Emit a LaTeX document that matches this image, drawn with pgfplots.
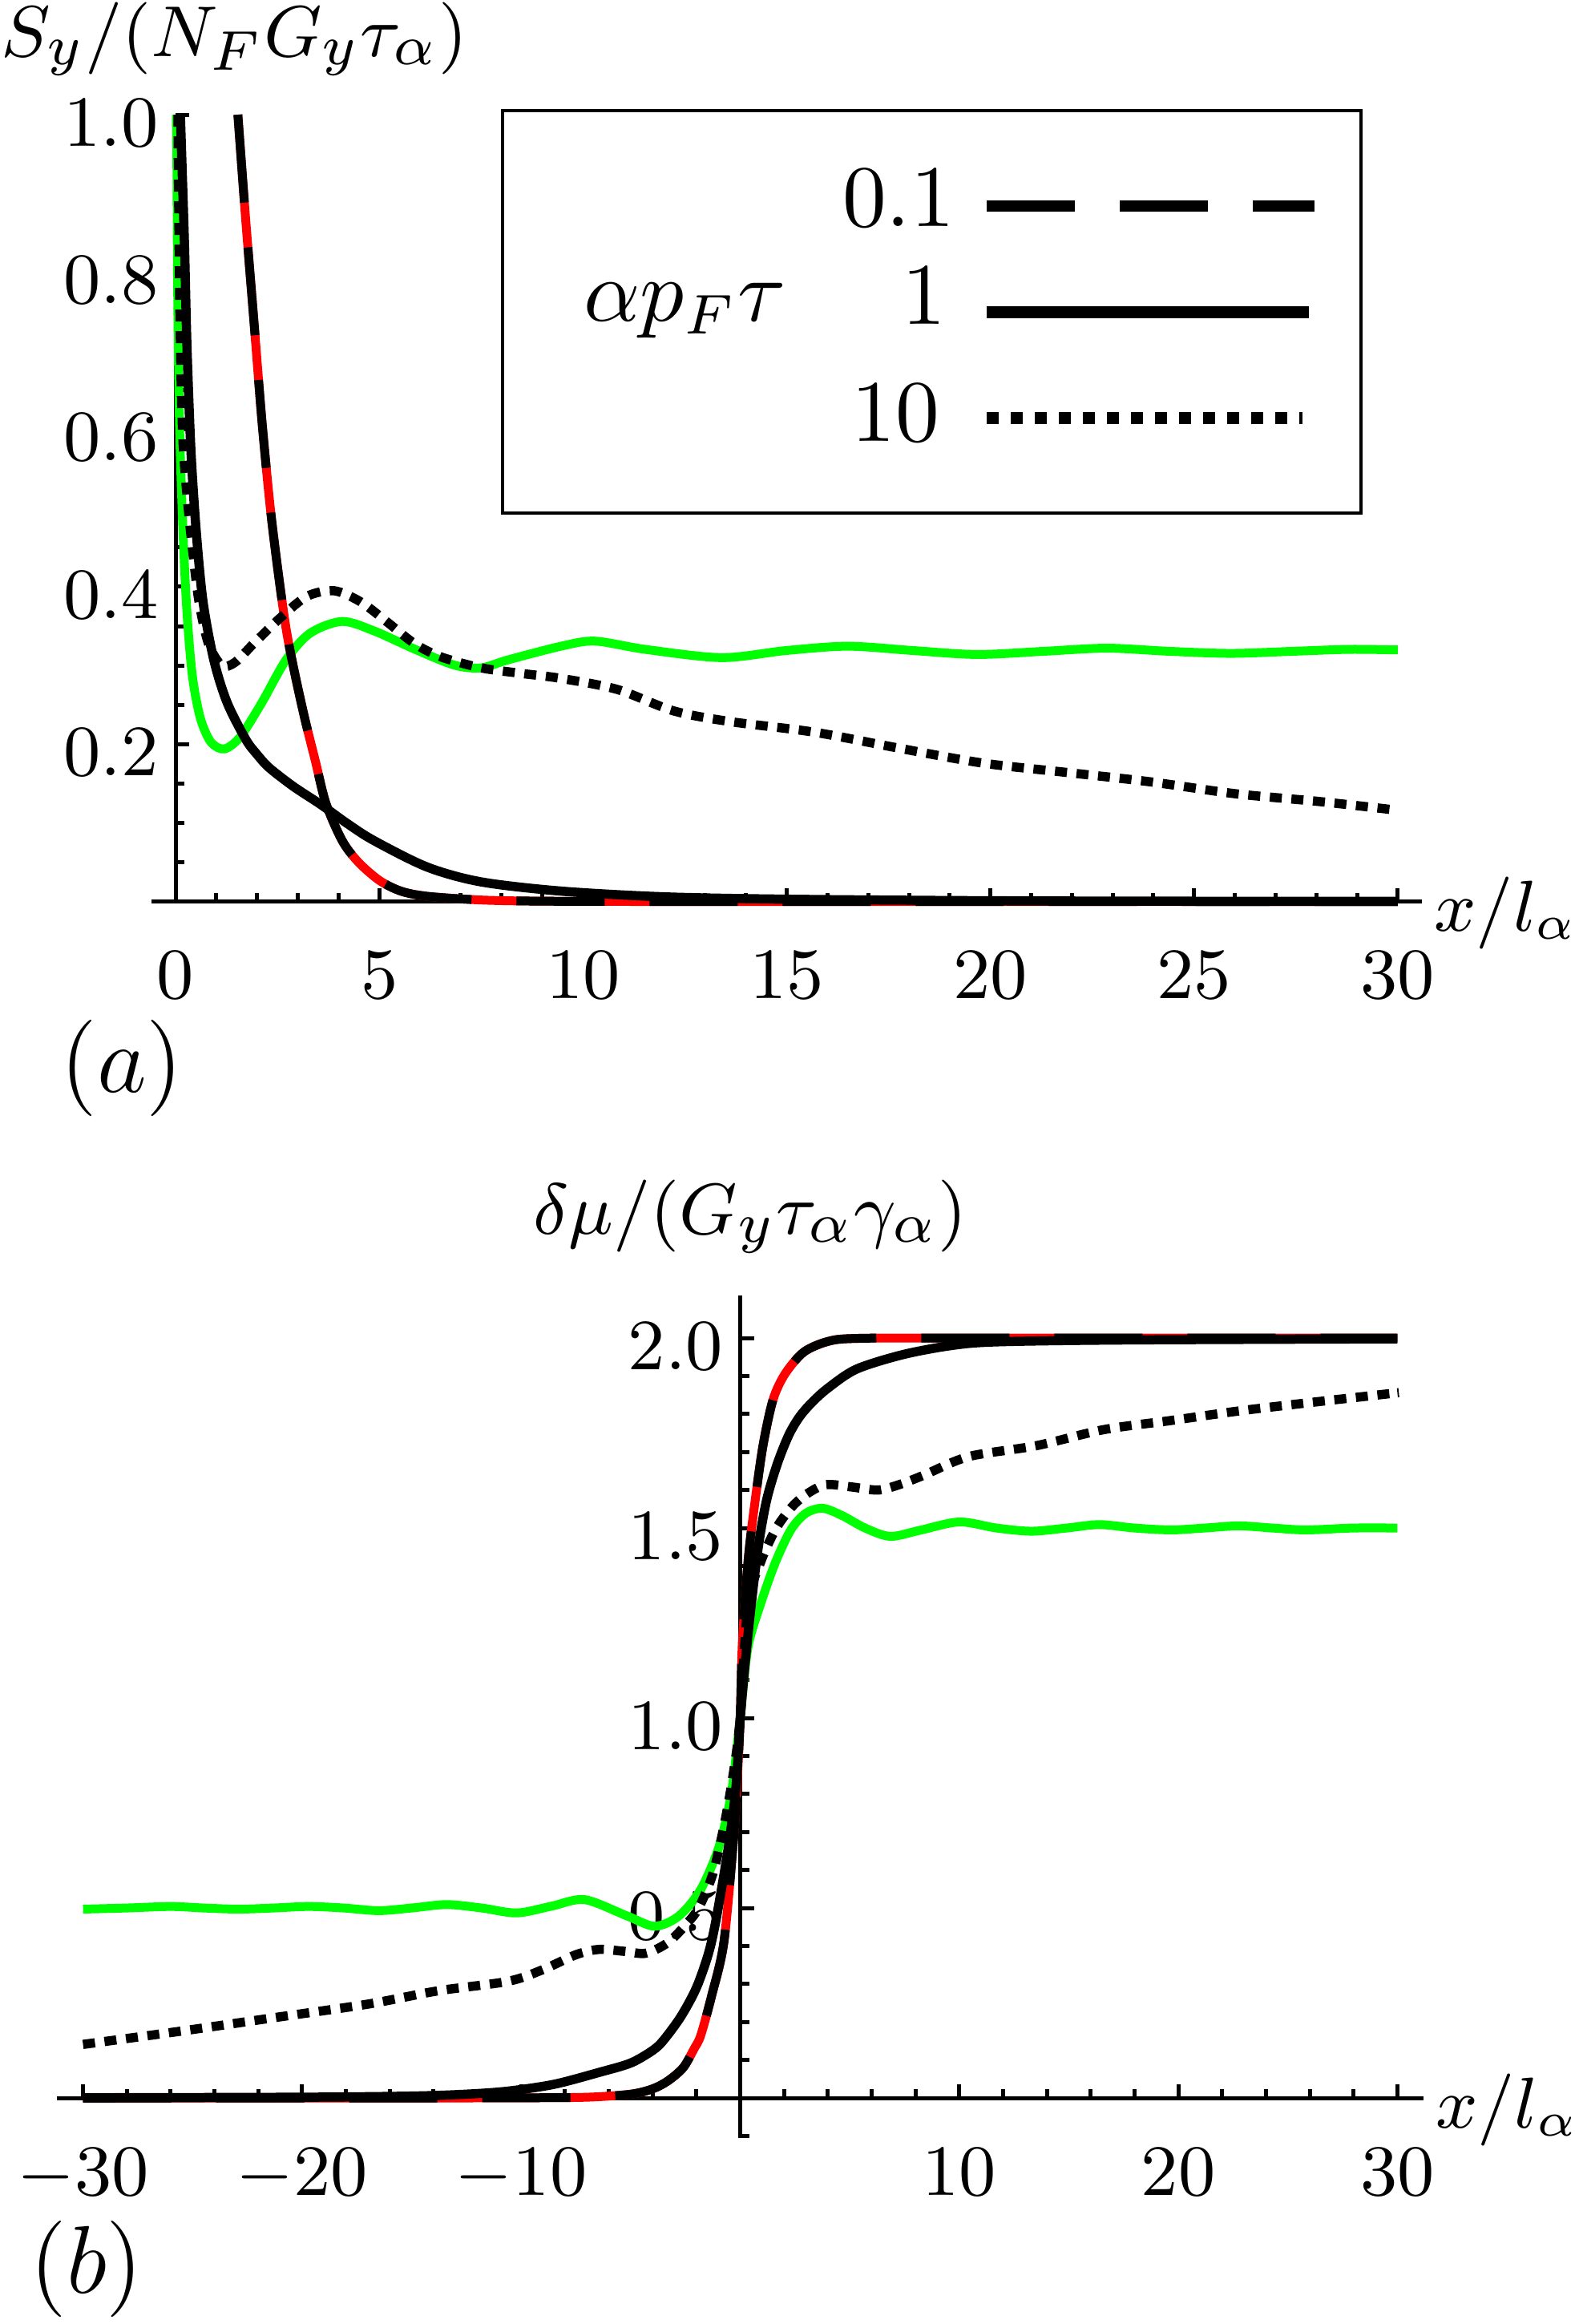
\documentclass[border=0pt]{standalone}
\usepackage{pgfplots}
\pgfplotsset{compat=1.18}
\definecolor{mgreen}{rgb}{0,1,0}
\definecolor{mred}{rgb}{1,0,0}

% Mathematica-like axes through the origin
\pgfplotsset{
  mma/.style={
    axis lines=middle,
    scale only axis,
    clip=false,
    axis line style={line width=0.5pt,-},
    every inner x axis line/.append style={-},
    every inner y axis line/.append style={-},
    tick style={black, line width=0.5pt},
    tick align=inside,
    major tick length=1.7pt,
    minor tick length=1.1pt,
    tick label style={font=\fontsize{9.5}{11}\selectfont},
    x tick label style={yshift=-2.8pt},
    y tick label style={xshift=1.4pt, yshift=-1pt,
      /pgf/number format/fixed, /pgf/number format/fixed zerofill,
      /pgf/number format/precision=1},
    label style={inner sep=0pt},
  },
  c01red/.style={mred, line width=1.1pt, smooth},
  c01/.style={black, line width=1.1pt, smooth, dash pattern=on 11pt off 5.6pt},
  c1/.style={black, line width=1.15pt, smooth},
  c10/.style={black, line width=1.15pt, smooth, dash pattern=on 1.5pt off 1.2pt},
  cg/.style={mgreen, line width=1.1pt, smooth},
}

\begin{document}
\begin{tikzpicture}
\useasboundingbox (0pt,0pt) rectangle (196.4pt,-289.9pt);

% ---------------- panel (a) ----------------
\begin{axis}[mma,
  at={(18.85pt,-112.46pt)}, anchor=south west,
  width=158.6pt, height=98.16pt,
  xmin=-0.6, xmax=30.6, ymin=0, ymax=1.0,
  hide obscured x ticks=false,
  xtick={0,5,...,30},
  minor xtick={1,2,...,30},
  ytick={0.2,0.4,0.6,0.8,1.0},
  minor ytick={0.05,0.1,...,1.0},
  xlabel={$x/l_\alpha$},
  ylabel={$S_y/(N_FG_y\tau_\alpha)$},
  xlabel style={at={(axis description cs:1,0)}, anchor=west, xshift=1.3pt, yshift=-1.45pt,
    font=\fontsize{9}{11}\selectfont},
  ylabel style={at={(axis description cs:0.01923,1)}, anchor=south west, xshift=-21.9pt, yshift=4.7pt,
    font=\fontsize{9.5}{11}\selectfont},
]
\addplot[cg] coordinates {
 (0.02,1.0) (0.033,0.942) (0.053,0.774) (0.098,0.605) (0.184,0.469) (0.28,0.368)
 (0.413,0.287) (0.61,0.233) (0.87,0.2025) (1.2,0.194) (1.59,0.2095) (2.12,0.253)
 (2.71,0.307) (3.3,0.341) (4.09,0.356) (4.87,0.344) (5.86,0.321) (6.84,0.3005)
 (7.5,0.297) (8.15,0.307) (9.46,0.3245) (10.29,0.331) (11.53,0.3205) (13.4,0.310)
 (14.98,0.319) (16.5,0.3245) (18.1,0.319) (19.67,0.314) (21.3,0.318) (22.85,0.322)
 (24.4,0.318) (25.9,0.3154) (27.4,0.318) (28.8,0.3205) (30,0.3198)
};
\addplot[c01red] coordinates {
 (1.53,1.0) (1.72,0.868) (1.92,0.74) (2.12,0.611) (2.32,0.503) (2.51,0.422)
 (2.71,0.348) (2.91,0.294) (3.17,0.233) (3.43,0.179) (3.69,0.125) (4.09,0.0775)
 (4.48,0.0505) (5.0,0.027) (5.53,0.0133) (6.18,0.0067) (7.5,0.002) (9,0.0005)
 (12,0.0001) (20,0) (30,0)
};
\addplot[c01] coordinates {
 (1.53,1.0) (1.72,0.868) (1.92,0.74) (2.12,0.611) (2.32,0.503) (2.51,0.422)
 (2.71,0.348) (2.91,0.294) (3.17,0.233) (3.43,0.179) (3.69,0.125) (4.09,0.0775)
 (4.48,0.0505) (5.0,0.027) (5.53,0.0133) (6.18,0.0067) (7.5,0.002) (9,0.0005)
 (12,0.0001) (20,0) (30,0)
};
\addplot[c1] coordinates {
 (0.118,1.0) (0.216,0.841) (0.28,0.706) (0.38,0.571) (0.51,0.469) (0.675,0.381)
 (0.94,0.307) (1.265,0.253) (1.725,0.206) (2.0,0.187) (2.3,0.170) (2.9,0.146)
 (3.56,0.1235) (4.22,0.099) (4.87,0.0775) (6.18,0.0438) (7.5,0.025) (9.46,0.0133)
 (12,0.006) (15,0.003) (20,0.001) (25,0.0004) (30,0.0002)
};
\addplot[c10] coordinates {
 (0.06,1.0) (0.09,0.82) (0.13,0.68) (0.184,0.584) (0.28,0.517) (0.413,0.449)
 (0.577,0.381) (0.807,0.328) (1.135,0.300) (1.46,0.304) (1.92,0.328) (2.58,0.361)
 (3.23,0.388) (3.89,0.395) (4.54,0.381) (5.2,0.355) (5.86,0.328) (6.51,0.311)
 (7.5,0.297) (8.48,0.290) (9.46,0.2836) (10.84,0.2696) (12.22,0.2424) (13.6,0.2288)
 (15.67,0.2153) (17.75,0.195) (19.81,0.176) (21.89,0.164) (23.95,0.152) (26.02,0.137)
 (28.1,0.127) (29.88,0.1167)
};
\end{axis}

% ---------------- panel (b) ----------------
\begin{axis}[mma,
  at={(7.08pt,-266.68pt)}, anchor=south west,
  width=170.54pt, height=105.13pt,
  xmin=-31.2, xmax=31.2, ymin=-0.105, ymax=2.113,
  xtick={-30,-20,-10,10,20,30},
  minor xtick={-30,-28,...,30},
  ytick={0.5,1.0,1.5,2.0},
  minor ytick={-0.1,0,0.1,...,2.1},
  xlabel={$x/l_\alpha$},
  ylabel={$\delta\mu/(G_y\tau_\alpha\gamma_\alpha)$},
  xlabel style={at={(axis description cs:1,0.04734)}, anchor=west, xshift=1.3pt, yshift=-1.45pt,
    font=\fontsize{9}{11}\selectfont},
  ylabel style={at={(axis description cs:0.5,1)}, anchor=south, xshift=1.25pt, yshift=5.0pt,
    font=\fontsize{9.5}{11}\selectfont},
]
\addplot[cg] coordinates {
 (-30,0.497) (-28,0.50) (-26,0.504) (-24.5,0.50) (-22.9,0.497) (-21.3,0.50)
 (-19.7,0.504) (-18.1,0.50) (-16.5,0.493) (-15,0.50) (-13.4,0.509) (-11.8,0.50)
 (-10.2,0.487) (-8.6,0.505) (-7.1,0.522) (-5.16,0.479) (-3.9,0.452) (-2.8,0.479)
 (-1.8,0.549) (-0.96,0.663) (-0.4,0.804) (0,1.0) (0.35,1.185) (0.93,1.30)
 (1.61,1.41) (2.32,1.496) (3.0,1.539) (3.77,1.552) (4.68,1.532) (5.7,1.50)
 (6.85,1.478) (8.2,1.494) (10.0,1.516) (11.7,1.50) (13.3,1.4916) (14.9,1.50)
 (16.4,1.509) (18,1.50) (19.67,1.495) (21.2,1.50) (22.75,1.5057) (24.3,1.50)
 (25.83,1.495) (28,1.50) (30,1.50)
};
\addplot[c01red] coordinates {
 (-30,0) (-15,0) (-10,0.0005) (-7,0.002) (-5,0.01) (-4,0.024) (-3.3,0.045)
 (-2.6,0.08) (-2.1,0.13) (-1.8,0.165) (-1.3,0.27) (-0.75,0.408) (-0.33,0.663)
 (-0.15,0.82) (0,1.0) (0.1,1.2) (0.37,1.42) (0.7,1.58) (1.05,1.72) (1.5,1.838)
 (2.05,1.906) (2.9,1.963) (4.0,1.991) (5.3,1.999) (10,2.0) (30,2.0)
};
\addplot[c01] coordinates {
 (-30,0) (-15,0) (-10,0.0005) (-7,0.002) (-5,0.01) (-4,0.024) (-3.3,0.045)
 (-2.6,0.08) (-2.1,0.13) (-1.8,0.165) (-1.3,0.27) (-0.75,0.408) (-0.33,0.663)
 (-0.15,0.82) (0,1.0) (0.1,1.2) (0.37,1.42) (0.7,1.58) (1.05,1.72) (1.5,1.838)
 (2.05,1.906) (2.9,1.963) (4.0,1.991) (5.3,1.999) (10,2.0) (30,2.0)
};
\addplot[c1] coordinates {
 (-30,0.0005) (-20,0.002) (-15,0.005) (-12.5,0.01) (-10.6,0.018) (-8.5,0.036)
 (-6.4,0.068) (-5.0,0.092) (-4.0,0.125) (-3.5,0.152) (-2.7,0.215) (-2.0,0.29)
 (-1.45,0.38) (-1.1,0.47) (-0.54,0.66) (-0.19,0.82) (0,1.0) (0.37,1.228)
 (0.8,1.44) (1.2,1.572) (1.7,1.67) (2.22,1.745) (2.7,1.792) (3.25,1.829)
 (4.0,1.868) (5.3,1.918) (7.4,1.956) (9.6,1.98) (11.7,1.99) (17.6,1.995) (30,1.998)
};
\addplot[c10] coordinates {
 (-30,0.141) (-25.4,0.177) (-21.2,0.212) (-17,0.247) (-13.8,0.282) (-10.6,0.307)
 (-9,0.338) (-7.5,0.377) (-6.45,0.391) (-5.3,0.386) (-4.3,0.381) (-3.3,0.409)
 (-2.5,0.455) (-1.9,0.5) (-1.24,0.592) (-0.68,0.733) (-0.26,0.8745) (0,1.0)
 (0.35,1.298) (0.93,1.41) (1.61,1.496) (2.32,1.553) (3.0,1.588) (3.9,1.614)
 (5.1,1.608) (6.3,1.600) (7.3,1.615) (8.38,1.639) (10.43,1.688) (13.51,1.7166)
 (16.6,1.759) (19.67,1.783) (22.75,1.808) (25.83,1.829) (29.7,1.854) (30,1.856)
};
\end{axis}

% legend of panel (a)
\draw[line width=0.45pt] (62.7pt,-13.8pt) rectangle (169.8pt,-64.0pt);
\begin{scope}[every node/.style={inner sep=0pt, font=\fontsize{10.5}{12}\selectfont}]
\node[anchor=base west] at (72.6pt,-40.0pt) {$\alpha p_F\tau$};
\node[anchor=base east] at (119.3pt,-28.2pt) {$0.1$};
\node[anchor=base east] at (118.2pt,-40.4pt) {$1$};
\node[anchor=base east] at (117.4pt,-55.0pt) {$10$};
\end{scope}
\draw[black, line width=1.4pt, dash pattern=on 11pt off 5.6pt] (123.1pt,-25.7pt) -- (164.0pt,-25.7pt);
\draw[black, line width=1.5pt] (123.1pt,-38.9pt) -- (163.3pt,-38.9pt);
\draw[black, line width=1.5pt, dash pattern=on 1.5pt off 1.5pt] (123.1pt,-52.1pt) -- (162.5pt,-52.1pt);

% panel tags
\node[inner sep=0pt, font=\fontsize{12.5}{15}\selectfont] at (15.2pt,-133.2pt) {$(a)$};
\node[inner sep=0pt, font=\fontsize{12.5}{15}\selectfont] at (10.8pt,-283.0pt) {$(b)$};
\end{tikzpicture}
\end{document}
